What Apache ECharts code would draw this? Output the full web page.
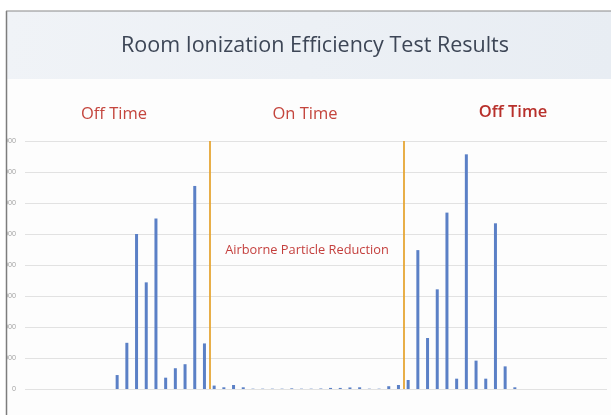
<!DOCTYPE html>
<html>
<head>
<meta charset="utf-8">
<title>Room Ionization Efficiency Test Results</title>
<script src="https://cdn.jsdelivr.net/npm/echarts@6/dist/echarts.min.js"></script>
<style>
    html, body { margin: 0; padding: 0; background: #ffffff; }
    #chart { width: 611px; height: 415px; }
</style>
</head>
<body>
<div id="chart"></div>
<script>
// data
const titleText = 'Room Ionization Efficiency Test Results';
const phaseNames = ['Off Time', 'On Time', 'Off Time'];
const reductionText = 'Airborne Particle Reduction';

// readings per sample slot (slots 0-8 and 51-59 are empty)
const leadingEmpty = [0, 0, 0, 0, 0, 0, 0, 0, 0];
const offTimeBefore = [450, 1490, 5000, 3440, 5500, 365, 670, 800, 6550, 1470];
const onTime = [110, 55, 130, 55, 10, 10, 10, 10, 20, 10, 10, 15, 35, 35, 50, 55, 10, 10, 90, 130];
const offTimeAfter = [290, 4480, 1645, 3215, 5690, 333, 7570, 915, 333, 5345, 730, 55];
const trailingEmpty = [0, 0, 0, 0, 0, 0, 0, 0, 0];

// slot index where ionizer was switched on / off
const phaseBoundaries = [19, 39];

const yTicks = [0, 1000, 2000, 3000, 4000, 5000, 6000, 7000, 8000];

const values = [...leadingEmpty, ...offTimeBefore, ...onTime, ...offTimeAfter, ...trailingEmpty];
const categories = values.map((v, i) => String(i + 1));

const chart = echarts.init(document.getElementById('chart'));

const redText = {
    fontFamily: 'Open Sans',
    fontSize: 16.5,
    fill: '#c4453d',
    align: 'center',
    verticalAlign: 'middle'
};

chart.setOption({
    backgroundColor: '#ffffff',
    animation: false,
    graphic: [
        {
            type: 'rect',
            z: 0,
            shape: { x: 7, y: 11, width: 604, height: 68 },
            style: {
                fill: new echarts.graphic.LinearGradient(0, 0, 1, 1, [
                    { offset: 0, color: '#f0f3f7' },
                    { offset: 1, color: '#e8edf3' }
                ])
            }
        },
        {
            type: 'rect',
            z: 0,
            shape: { x: 7, y: 79, width: 604, height: 336 },
            style: { fill: '#fdfdfd' }
        },
        {
            type: 'rect',
            z: 100,
            shape: { x: 0, y: 0, width: 6, height: 415 },
            style: { fill: '#ffffff' }
        },
        {
            type: 'line',
            z: 101,
            shape: { x1: 6.5, y1: 11, x2: 6.5, y2: 415 },
            style: { stroke: '#7d7d7d', lineWidth: 1.5 }
        },
        {
            type: 'line',
            z: 101,
            shape: { x1: 6, y1: 11, x2: 611, y2: 11 },
            style: { stroke: '#8a8a8a', lineWidth: 1.2 }
        },
        {
            type: 'text',
            z: 50,
            x: 315,
            y: 46,
            style: {
                text: titleText,
                fontFamily: 'Open Sans',
                fontSize: 21.5,
                fill: '#3d4656',
                align: 'center',
                verticalAlign: 'middle'
            }
        },
        {
            type: 'text',
            z: 50,
            x: 114,
            y: 114,
            style: { text: phaseNames[0], ...redText }
        },
        {
            type: 'text',
            z: 50,
            x: 305,
            y: 114,
            style: { text: phaseNames[1], ...redText }
        },
        {
            type: 'text',
            z: 50,
            x: 513,
            y: 112,
            style: { text: phaseNames[2], ...redText, fontWeight: 600, fill: '#b8302b' }
        },
        {
            type: 'text',
            z: 50,
            x: 307,
            y: 250,
            style: {
                text: reductionText,
                fontFamily: 'Open Sans',
                fontSize: 12.8,
                fill: '#c43f3d',
                align: 'center',
                verticalAlign: 'middle'
            }
        }
    ],
    grid: {
        left: 25,
        right: 4,
        top: 141,
        bottom: 26,
        containLabel: false,
        outerBoundsMode: 'none'
    },
    xAxis: [
        {
            type: 'category',
            data: categories,
            axisLine: { show: false },
            axisTick: { show: false },
            axisLabel: { show: false }
        },
        {
            type: 'value',
            min: 0,
            max: values.length,
            show: false
        }
    ],
    yAxis: {
        type: 'value',
        min: yTicks[0],
        max: yTicks[yTicks.length - 1],
        interval: yTicks[1] - yTicks[0],
        axisLine: { show: false },
        axisTick: { show: false },
        axisLabel: {
            fontFamily: 'Open Sans',
            fontSize: 7,
            color: '#a0a0a0',
            margin: 9,
            formatter: v => String(v)
        },
        splitLine: { lineStyle: { color: '#e2e2e2', width: 1 } }
    },
    series: [
        {
            type: 'bar',
            data: values,
            barWidth: 3,
            itemStyle: { color: '#5b80c6' }
        },
        {
            type: 'scatter',
            xAxisIndex: 1,
            data: [],
            markLine: {
                symbol: 'none',
                silent: true,
                label: { show: false },
                lineStyle: { color: '#e6a635', width: 1.8, type: 'solid' },
                data: phaseBoundaries.map(b => ({ xAxis: b }))
            }
        }
    ]
});
</script>
</body>
</html>
